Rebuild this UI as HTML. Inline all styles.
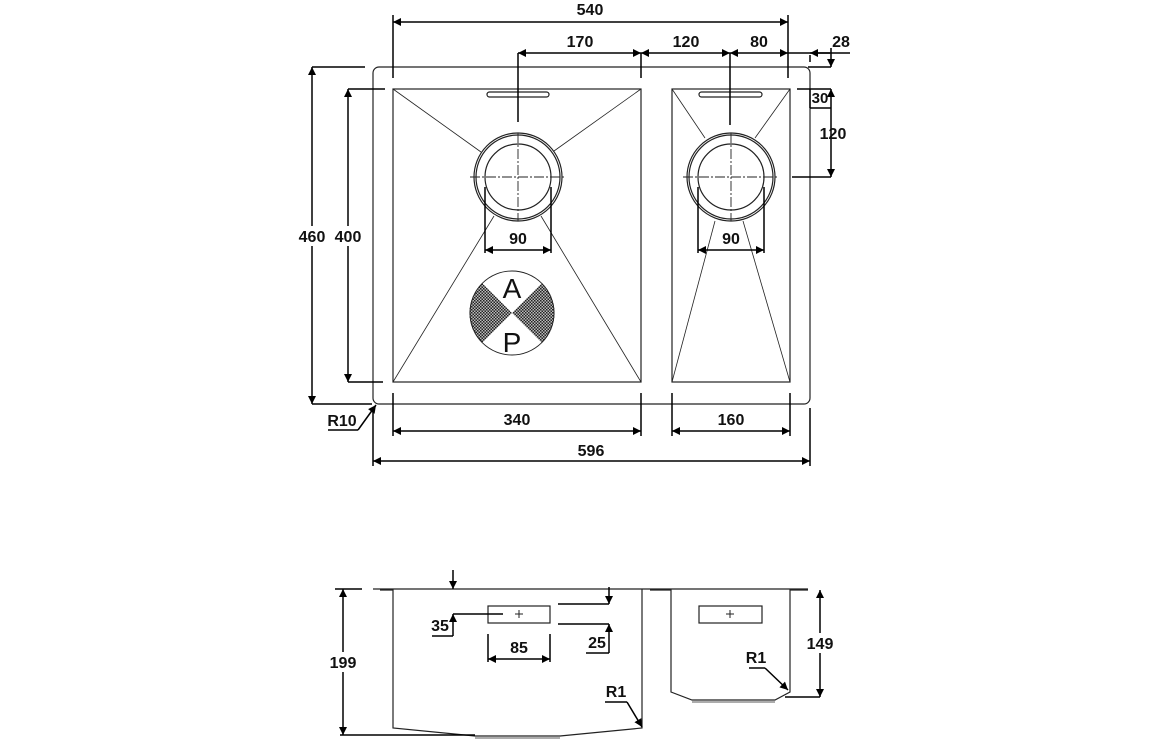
<!DOCTYPE html>
<html><head><meta charset="utf-8"><style>
html,body{margin:0;padding:0;background:#fff;width:1156px;height:742px;overflow:hidden}
svg text{font-family:"Liberation Sans",sans-serif;font-weight:bold;font-size:16px;fill:#111}
</style></head><body>
<svg width="1156" height="742" viewBox="0 0 1156 742" xmlns="http://www.w3.org/2000/svg">
<defs>
<marker id="a" viewBox="0 0 10 10" refX="10" refY="5" markerWidth="12" markerHeight="8" orient="auto-start-reverse" markerUnits="userSpaceOnUse"><path d="M0,0 L10,5 L0,10 z" fill="#000"/></marker>
<pattern id="h" width="3" height="3" patternUnits="userSpaceOnUse"><rect width="3" height="3" fill="#bbb"/><rect width="1.5" height="1.5" fill="#222"/><rect x="1.5" y="1.5" width="1.5" height="1.5" fill="#222"/></pattern>
</defs>
<g fill="none" stroke="#222" stroke-width="1.2">
<rect x="373" y="67" width="437" height="337" rx="6"/>
<rect x="393" y="89" width="248" height="293"/>
<rect x="672" y="89" width="118" height="293"/>
<rect x="487" y="92" width="62" height="5" rx="2.5"/>
<rect x="699" y="92" width="63" height="5" rx="2.5"/>
<g stroke-width="0.8">
<line x1="393" y1="89" x2="481" y2="152"/><line x1="641" y1="89" x2="554" y2="151"/>
<line x1="393" y1="382" x2="494" y2="216"/><line x1="641" y1="382" x2="541" y2="216"/>
<line x1="672" y1="89" x2="705" y2="138"/><line x1="790" y1="89" x2="755" y2="138"/>
<line x1="672" y1="382" x2="715" y2="221"/><line x1="790" y1="382" x2="743" y2="221"/>
</g>
<circle cx="518" cy="177" r="44" fill="#fff"/><circle cx="518" cy="177" r="42"/><circle cx="518" cy="177" r="33"/>
<circle cx="731" cy="177" r="44" fill="#fff"/><circle cx="731" cy="177" r="42"/><circle cx="731" cy="177" r="33"/>
<g stroke-dasharray="10,2,2,2" stroke-width="0.9">
<line x1="470" y1="177" x2="566" y2="177"/><line x1="683" y1="177" x2="779" y2="177"/>
<line x1="518" y1="133" x2="518" y2="221"/><line x1="731" y1="133" x2="731" y2="221"/>
</g>
<path d="M512,313 L482,283 A42,42 0 0 0 482,343 Z" fill="url(#h)" stroke="none"/>
<path d="M512,313 L542,283 A42,42 0 0 1 542,343 Z" fill="url(#h)" stroke="none"/>
<circle cx="512" cy="313" r="42" stroke-width="0.9"/>
</g>
<text x="512" y="298" text-anchor="middle" style="font-weight:normal;font-size:28px">A</text>
<text x="512" y="352" text-anchor="middle" style="font-weight:normal;font-size:28px">P</text>
<g fill="none" stroke="#000" stroke-width="1.5">
<line x1="393" y1="22" x2="788" y2="22" marker-start="url(#a)" marker-end="url(#a)"/>
<line x1="393" y1="15" x2="393" y2="78"/><line x1="788" y1="15" x2="788" y2="78"/>
<line x1="518" y1="53" x2="641" y2="53" marker-start="url(#a)" marker-end="url(#a)"/>
<line x1="641" y1="53" x2="730" y2="53" marker-start="url(#a)" marker-end="url(#a)"/>
<line x1="730" y1="53" x2="788" y2="53" marker-start="url(#a)" marker-end="url(#a)"/>
<line x1="788" y1="53" x2="850" y2="53"/>
<line x1="830" y1="53" x2="810" y2="53" marker-end="url(#a)"/>
<line x1="810" y1="55" x2="810" y2="62"/>
<line x1="518" y1="53" x2="518" y2="122"/><line x1="641" y1="53" x2="641" y2="78"/><line x1="730" y1="53" x2="730" y2="125"/>
<line x1="831" y1="48" x2="831" y2="67" marker-end="url(#a)"/>
<line x1="808" y1="67" x2="831" y2="67"/>
<line x1="797" y1="89" x2="831" y2="89"/><line x1="810" y1="89" x2="810" y2="108"/><line x1="810" y1="108" x2="831" y2="108"/>
<line x1="831" y1="89" x2="831" y2="177" marker-start="url(#a)" marker-end="url(#a)"/>
<line x1="792" y1="177" x2="831" y2="177"/>
<line x1="312" y1="67" x2="312" y2="404" marker-start="url(#a)" marker-end="url(#a)"/>
<line x1="312" y1="67" x2="365" y2="67"/><line x1="312" y1="404" x2="372" y2="404"/>
<line x1="348" y1="89" x2="348" y2="382" marker-start="url(#a)" marker-end="url(#a)"/>
<line x1="348" y1="89" x2="385" y2="89"/><line x1="348" y1="382" x2="383" y2="382"/>
<line x1="485" y1="187" x2="485" y2="253"/><line x1="551" y1="187" x2="551" y2="253"/>
<line x1="485" y1="250" x2="551" y2="250" marker-start="url(#a)" marker-end="url(#a)"/>
<line x1="698" y1="187" x2="698" y2="253"/><line x1="764" y1="187" x2="764" y2="253"/>
<line x1="698" y1="250" x2="764" y2="250" marker-start="url(#a)" marker-end="url(#a)"/>
<line x1="393" y1="393" x2="393" y2="436"/><line x1="641" y1="393" x2="641" y2="436"/>
<line x1="393" y1="431" x2="641" y2="431" marker-start="url(#a)" marker-end="url(#a)"/>
<line x1="672" y1="393" x2="672" y2="436"/><line x1="790" y1="393" x2="790" y2="436"/>
<line x1="672" y1="431" x2="790" y2="431" marker-start="url(#a)" marker-end="url(#a)"/>
<line x1="373" y1="408" x2="373" y2="466"/><line x1="810" y1="408" x2="810" y2="466"/>
<line x1="373" y1="461" x2="810" y2="461" marker-start="url(#a)" marker-end="url(#a)"/>
<polyline points="328,430 358,430"/>
<line x1="358" y1="430" x2="376" y2="405" marker-end="url(#a)"/>
</g>
<rect x="296" y="226" width="32" height="20" fill="#fff"/>
<rect x="333" y="226" width="32" height="20" fill="#fff"/>
<g text-anchor="middle">
<text x="590" y="15">540</text>
<text x="580" y="47">170</text><text x="686" y="47">120</text><text x="759" y="47">80</text><text x="841" y="47">28</text>
<text x="820" y="103" style="font-size:15px">30</text>
<text x="833" y="139">120</text>
<text x="312" y="242">460</text><text x="348" y="242">400</text>
<text x="518" y="244">90</text><text x="731" y="244">90</text>
<text x="517" y="425">340</text><text x="731" y="425">160</text><text x="591" y="456">596</text>
<text x="342" y="426">R10</text>
</g>
<g fill="none" stroke="#222" stroke-width="1.2">
<line x1="373" y1="589" x2="808" y2="589"/>
<path d="M380,590 L393,590 M393,589 L393,728 L475,736 L560,736 L642,728 L642,589"/>
<path d="M650,590 L671,590 M671,589 L671,692 L692,700 L775,700 L790,692 L790,589 M790,590 L808,590"/>
<line x1="475" y1="738" x2="560" y2="738" stroke-width="0.8"/>
<line x1="692" y1="702" x2="775" y2="702" stroke-width="0.8"/>
<rect x="488" y="606" width="62" height="17"/>
<rect x="699" y="606" width="63" height="17"/>
</g>
<g stroke="#222" stroke-width="1"><line x1="515" y1="614" x2="523" y2="614"/><line x1="519" y1="610" x2="519" y2="618"/>
<line x1="726" y1="614" x2="734" y2="614"/><line x1="730" y1="610" x2="730" y2="618"/></g>
<g fill="none" stroke="#000" stroke-width="1.5">
<line x1="343" y1="589" x2="343" y2="735" marker-start="url(#a)" marker-end="url(#a)"/>
<line x1="335" y1="589" x2="362" y2="589"/><line x1="340" y1="735" x2="475" y2="735"/>
<line x1="453" y1="570" x2="453" y2="589" marker-end="url(#a)"/>
<line x1="453" y1="636" x2="453" y2="614" marker-end="url(#a)"/>
<line x1="453" y1="614" x2="503" y2="614"/><line x1="432" y1="636" x2="453" y2="636"/>
<line x1="488" y1="634" x2="488" y2="662"/><line x1="550" y1="634" x2="550" y2="662"/>
<line x1="488" y1="659" x2="550" y2="659" marker-start="url(#a)" marker-end="url(#a)"/>
<line x1="609" y1="587" x2="609" y2="604" marker-end="url(#a)"/>
<line x1="609" y1="653" x2="609" y2="624" marker-end="url(#a)"/>
<line x1="558" y1="604" x2="609" y2="604"/><line x1="558" y1="624" x2="609" y2="624"/>
<line x1="586" y1="653" x2="609" y2="653"/>
<line x1="820" y1="590" x2="820" y2="697" marker-start="url(#a)" marker-end="url(#a)"/>
<line x1="785" y1="697" x2="820" y2="697"/>
<polyline points="605,702 627,702"/>
<line x1="627" y1="702" x2="642" y2="727" marker-end="url(#a)"/>
<polyline points="749,668 765,668"/>
<line x1="765" y1="668" x2="788" y2="690" marker-end="url(#a)"/>
</g>
<rect x="328" y="652" width="32" height="20" fill="#fff"/>
<rect x="805" y="633" width="32" height="20" fill="#fff"/>
<g text-anchor="middle">
<text x="440" y="631">35</text><text x="519" y="653">85</text><text x="597" y="648">25</text>
<text x="343" y="668">199</text><text x="820" y="649">149</text>
<text x="616" y="697">R1</text><text x="756" y="663">R1</text>
</g>
</svg>
</body></html>
